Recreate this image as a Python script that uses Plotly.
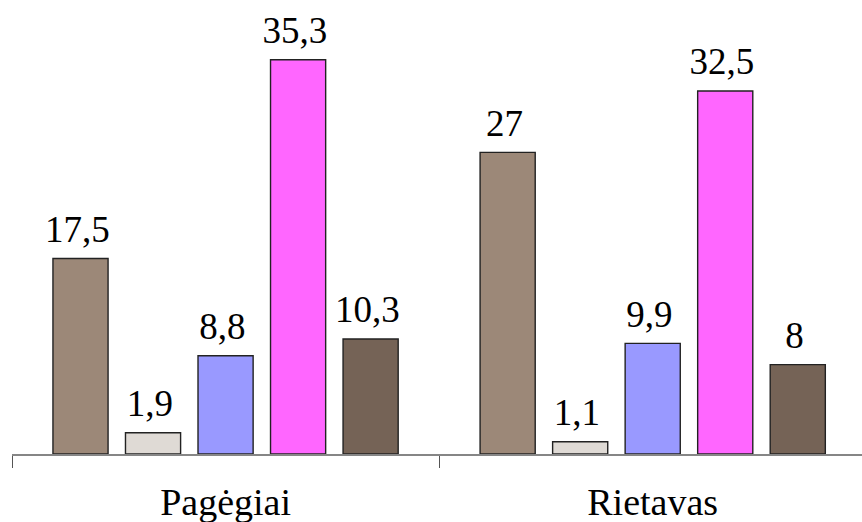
import plotly.graph_objects as go

categories = ["Pagėgiai", "Rietavas"]
series_a = [17.5, 27]
series_b = [1.9, 1.1]
series_c = [8.8, 9.9]
series_d = [35.3, 32.5]
series_e = [10.3, 8]
series_colors = ["#9C8878", "#DFDAD5", "#9999FF", "#FF66FF", "#756356"]

def lbl(v):
    return f"{v:g}".replace(".", ",")

FONT = "Liberation Serif"
fig = go.Figure()
for vals, col in zip([series_a, series_b, series_c, series_d, series_e], series_colors):
    fig.add_trace(go.Bar(
        x=list(range(len(categories))), y=vals,
        marker=dict(color=col, line=dict(color="#222222", width=1.4)),
        text=[lbl(v) for v in vals],
        texttemplate="%{text}<sub> </sub>",
        textposition="outside", cliponaxis=False, constraintext="none",
        textfont=dict(family=FONT, size=37, color="black"),
        showlegend=False, hoverinfo="skip",
    ))

fig.update_layout(
    width=862, height=522,
    margin=dict(l=12, r=0, t=10, b=68, autoexpand=False),
    paper_bgcolor="white", plot_bgcolor="white",
    barmode="group", bargap=0.151, bargroupgap=0.24,
    xaxis=dict(
        type="linear", range=[-0.5, 1.49], automargin=False,
        tickvals=list(range(len(categories))), ticktext=categories,
        ticks="outside", ticklen=12, tickcolor="rgba(0,0,0,0)",
        ticklabelstandoff=2,
        tickfont=dict(family=FONT, size=38, color="black"),
        showline=True, linecolor="#868686", linewidth=1.5,
        showgrid=False, zeroline=False,
        minor=dict(tickvals=[-0.5, 0.5, 1.5], ticks="outside", ticklen=12,
                   tickcolor="#555555", tickwidth=1.2, showgrid=False),
    ),
    yaxis=dict(range=[0, 39.75], visible=False, showgrid=False, zeroline=False,
               automargin=False),
)
fig.write_html("out.html", config={"displayModeBar": False},
               post_script="document.body.style.margin='0';")
